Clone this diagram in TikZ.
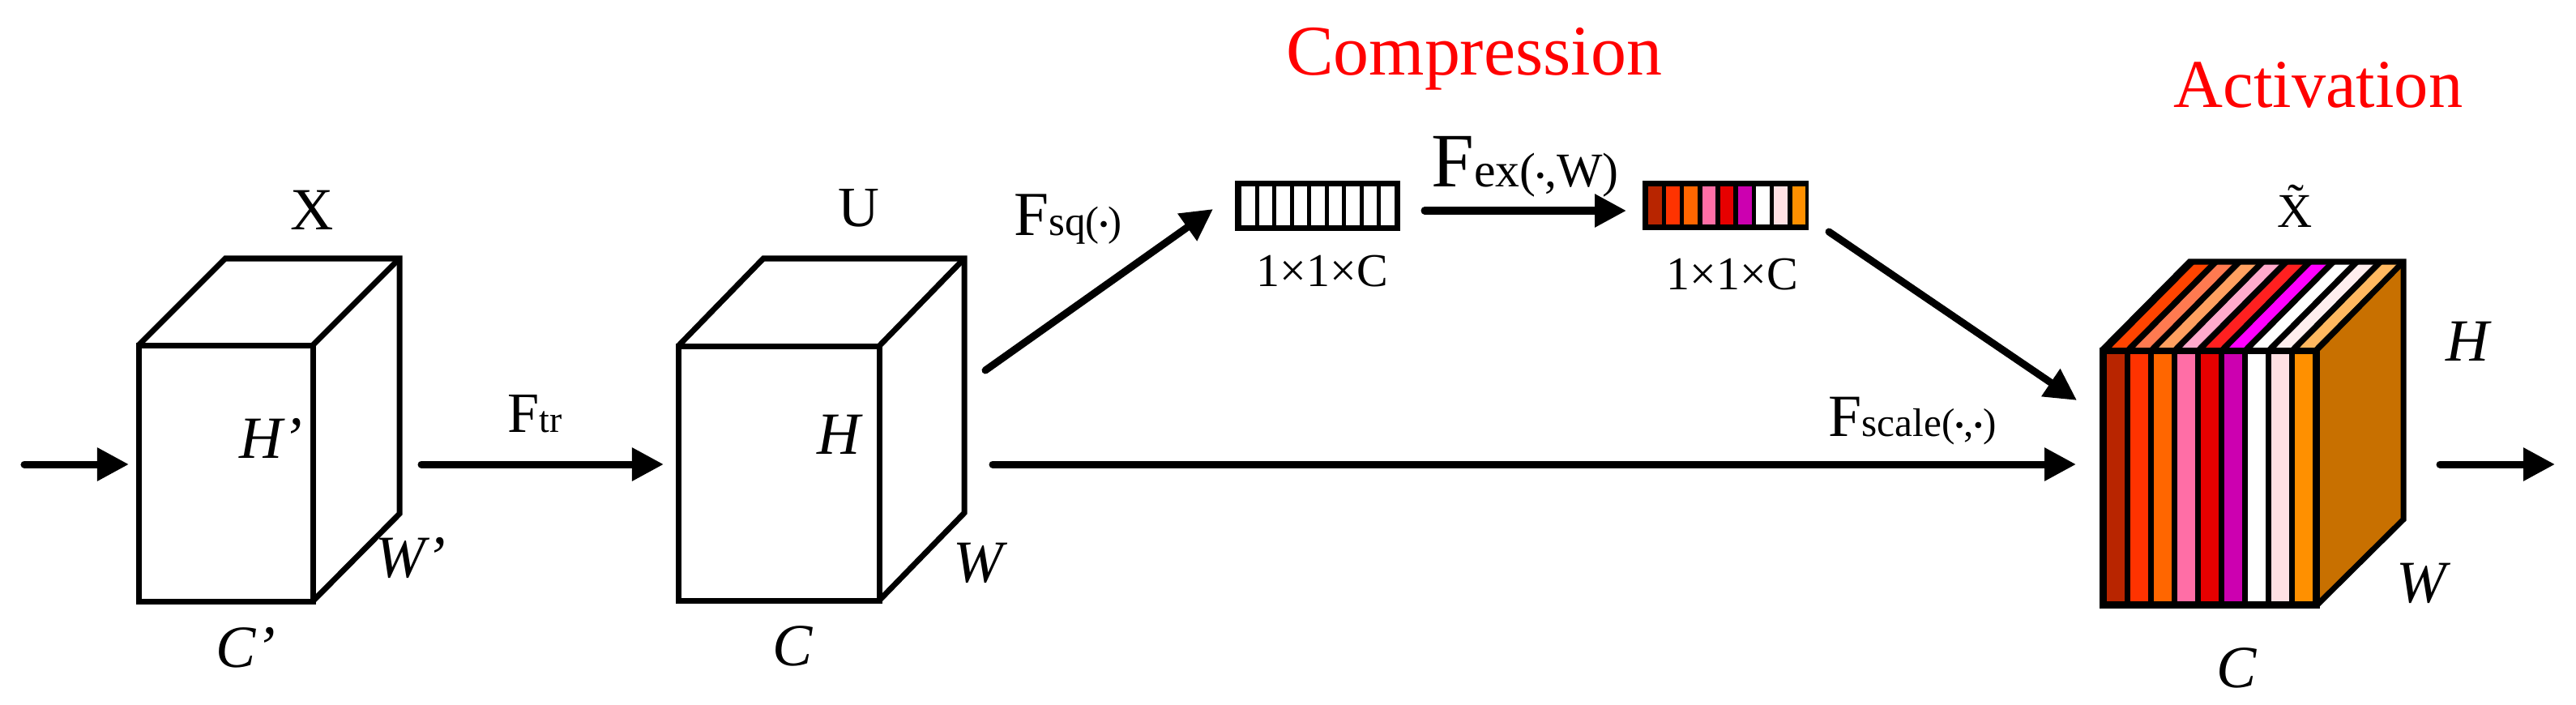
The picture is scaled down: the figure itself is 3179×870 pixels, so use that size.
\documentclass[tikz,border=0pt]{standalone}
\usepackage{fontspec}
\setmainfont{Liberation Serif}
\usetikzlibrary{arrows.meta}

% channel colours, front faces and top face
\definecolor{front1}{HTML}{B82500}
\definecolor{front2}{HTML}{FF3300}
\definecolor{front3}{HTML}{FF6600}
\definecolor{front4}{HTML}{FF6EA6}
\definecolor{front5}{HTML}{E60000}
\definecolor{front6}{HTML}{CC00B0}
\definecolor{front7}{HTML}{FFFFFF}
\definecolor{front8}{HTML}{FFE0E3}
\definecolor{front9}{HTML}{FF9000}
\definecolor{top1}{HTML}{FF4400}
\definecolor{top2}{HTML}{FF7A50}
\definecolor{top3}{HTML}{FFA060}
\definecolor{top4}{HTML}{FFAACC}
\definecolor{top5}{HTML}{FF2020}
\definecolor{top6}{HTML}{FF00FF}
\definecolor{top7}{HTML}{FFFFFF}
\definecolor{top8}{HTML}{FFEEEE}
\definecolor{top9}{HTML}{FFB860}
\definecolor{sideor}{HTML}{C87000}

\newcommand{\lblsize}[1]{\fontsize{#1pt}{#1pt}\selectfont}
\newcommand{\blt}{{\fontsize{9pt}{9pt}\selectfont\raisebox{0.6pt}{•}}}

\tikzset{
  edge/.style={line width=0.7mm},
  flow/.style={line width=0.9mm, line cap=round, -{Triangle[length=3.9mm,width=3.9mm]}},
  lbl/.style={inner sep=0pt, anchor=base},
  dimtxt/.style={lbl, font=\lblsize{21}\itshape},
}

\begin{document}
\begin{tikzpicture}[x=0.01cm,y=-0.01cm]
  \useasboundingbox (0,0) rectangle (3179,870);

  % input cube X
  \coordinate (xa) at (171,426);
  \coordinate (xb) at (386,426);
  \coordinate (xc) at (386,742);
  \coordinate (xd) at (171,742);
  \coordinate (xe) at (278,319);
  \coordinate (xf) at (493,319);
  \coordinate (xg) at (493,634);
  \draw[edge] (xa) -- (xb) -- (xc) -- (xd) -- cycle;
  \draw[edge] (xa) -- (xe) -- (xf) -- (xg) -- (xc);
  \draw[edge] (xb) -- (xf);

  % cube U
  \coordinate (ua) at (837,427);
  \coordinate (ub) at (1085,427);
  \coordinate (uc) at (1085,741);
  \coordinate (ud) at (837,741);
  \coordinate (ue) at (942,319);
  \coordinate (uf) at (1190,319);
  \coordinate (ug) at (1190,633);
  \draw[edge] (ua) -- (ub) -- (uc) -- (ud) -- cycle;
  \draw[edge] (ua) -- (ue) -- (uf) -- (ug) -- (uc);
  \draw[edge] (ub) -- (uf);

  % squeezed vector
  \coordinate (sqa) at (1524,223);
  \coordinate (sqb) at (1728,285);
  \fill[black] (sqa) rectangle (sqb);
  \foreach \i in {1,...,9}
    \fill[white] ({1532+21.5*(\i-1)},230) rectangle ++(16.5,48);

  % excited vector
  \coordinate (exa) at (2027,223);
  \coordinate (exb) at (2232,284);
  \fill[black] (exa) rectangle (exb);
  \foreach \i in {1,...,9}
    \fill[front\i] ({2034+22.2*(\i-1)},230) rectangle ++(16.5,47);

  % output cube
  \coordinate (sa) at (2594,432);
  \coordinate (sb) at (2859,432);
  \coordinate (sc) at (2859,747);
  \coordinate (sd) at (2594,747);
  \coordinate (se) at (2702,323);
  \coordinate (sf) at (2966,323);
  \coordinate (sg) at (2966,641);
  \fill[black] (sa) -- (sb) -- (sc) -- (sd) -- cycle;
  \fill[black] (sa) -- (sb) -- (sf) -- (se) -- cycle;
  \fill[sideor] (sb) -- (sf) -- (sg) -- (sc) -- cycle;
  \foreach \i in {1,...,9}{
    \fill[front\i] ({2600+29*(\i-1)},437) rectangle ++(22,305);
    \fill[top\i] ({2603+29*(\i-1)},432) -- ++(18,0) -- ++(108,-109) -- ++(-18,0) -- cycle;
  }
  \draw[edge] (sa) -- (sb) -- (sc) -- (sd) -- cycle;
  \draw[edge] (sa) -- (se) -- (sf) -- (sg) -- (sc);
  \draw[edge] (sb) -- (sf);

  % arrow ends
  \coordinate (inS)  at (30,573);
  \coordinate (inE)  at (159,573);
  \coordinate (trS)  at (520,573);
  \coordinate (trE)  at (819,573);
  \coordinate (sqS)  at (1216,457);
  \coordinate (sqE)  at (1497,258);
  \coordinate (exS)  at (1758,260);
  \coordinate (exE)  at (2007,260);
  \coordinate (acS)  at (2257,286);
  \coordinate (acE)  at (2563,494);
  \coordinate (scS)  at (1225,573);
  \coordinate (scE)  at (2562,573);
  \coordinate (outS) at (3011,573);
  \coordinate (outE) at (3153,573);

  \draw[flow] (inS) -- (inE);
  \draw[flow] (trS) -- (trE);
  \draw[flow] (sqS) -- (sqE);
  \draw[flow] (exS) -- (exE);
  \draw[flow] (acS) -- (acE);
  \draw[flow] (scS) -- (scE);
  \draw[flow] (outS) -- (outE);

  % labels
  \node[lbl, red, font=\lblsize{25}] (comp) at (1819,93) {Compression};
  \node[lbl, red, font=\lblsize{24}] (act) at (2861,133) {Activation};

  \node[lbl, font=\lblsize{21}] (lX) at (385,284) {X};
  \node[lbl, font=\lblsize{20}] (lU) at (1060,279) {U};
  \node[lbl, font=\lblsize{17}] (lXt) at (2832,280) {\~{X}};

  \node[dimtxt] (hX) at (334,565) {H’};
  \node[dimtxt] (wX) at (507,712) {W’};
  \node[dimtxt] (cX) at (303,823) {C’};
  \node[dimtxt] (hU) at (1035,560) {H};
  \node[dimtxt] (wU) at (1207,718) {W};
  \node[dimtxt] (cU) at (978,821) {C};
  \node[dimtxt] (hS) at (3045,445) {H};
  \node[dimtxt] (wS) at (2988,743) {W};
  \node[dimtxt] (cS) at (2760,848) {C};

  \node[lbl, font=\lblsize{20}] (ftr) at (660,533) {F{\lblsize{13}tr}};
  \node[lbl, font=\lblsize{22}] (fsq) at (1318,290) {F{\lblsize{14.5}sq(\blt)}};
  \node[lbl, font=\lblsize{27}] (fex) at (1882,230) {F{\lblsize{17}ex(\blt,W)}};
  \node[lbl, font=\lblsize{21}] (fsc) at (2360,538) {F{\lblsize{14}scale(\blt,\blt)}};

  \node[lbl, font=\lblsize{16.5}] (dsq) at (1632,353) {1×1×C};
  \node[lbl, font=\lblsize{16.5}] (dex) at (2138,357) {1×1×C};
\end{tikzpicture}
\end{document}
